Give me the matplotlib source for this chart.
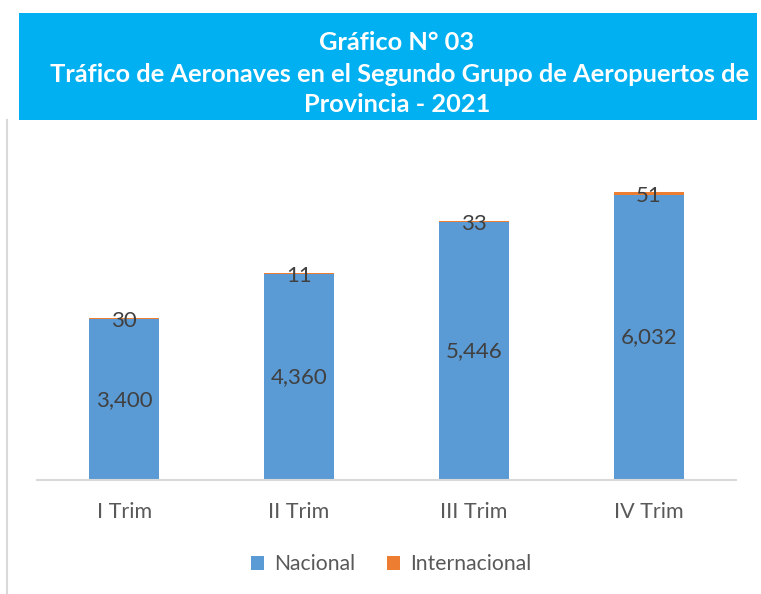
import matplotlib
matplotlib.use("Agg")
import matplotlib.pyplot as plt
from matplotlib.patches import Rectangle, Patch
from matplotlib.lines import Line2D

categories = ["I Trim", "II Trim", "III Trim", "IV Trim"]
nacional = [3400, 4360, 5446, 6032]
internacional = [30, 11, 33, 51]
series_names = ["Nacional", "Internacional"]
title_lines = ["Gráfico N° 03",
               " Tráfico de Aeronaves en el Segundo Grupo de Aeropuertos de",
               "Provincia - 2021"]

W, H = 761, 594
plt.rcParams['font.family'] = ['Lato', 'DejaVu Sans']
fig = plt.figure(figsize=(W / 100, H / 100), dpi=100)

# title box
fig.patches.append(Rectangle((19 / W, 1 - 120 / H), (757 - 19) / W, (120 - 13) / H,
                             transform=fig.transFigure, facecolor="#00B0F0",
                             edgecolor="none", zorder=0))
for txt, yp in zip(title_lines, [42, 74, 104]):
    fig.text(397 / W, 1 - yp / H, txt, ha="center", va="center", color="white",
             fontsize=18.3, fontweight="bold")

# left border line
fig.add_artist(Line2D([7 / W, 7 / W], [0, 1 - 120 / H], transform=fig.transFigure,
                      color="#D9D9D9", lw=1.5))

ax = fig.add_axes([37 / W, 1 - 480 / H, (736 - 37) / W, (480 - 149) / H])
x = range(len(categories))
blue = "#5B9BD5"
orange = "#ED7D31"
ax.bar(x, nacional, width=0.4, color=blue, label=series_names[0], zorder=2)
ax.bar(x, internacional, width=0.4, bottom=nacional, color=orange,
       label=series_names[1], zorder=2)
for i in x:
    ax.text(i, nacional[i] / 2, f"{nacional[i]:,}", ha="center", va="center",
            fontsize=16, color="#404040", zorder=3)
    ax.text(i, nacional[i] + internacional[i] / 2 - 50, f"{internacional[i]:,}",
            ha="center", va="center", fontsize=16, color="#404040", zorder=3)

ax.set_xlim(-0.5, 3.5)
ax.set_ylim(0, 7000)
ax.set_xticks(list(x))
ax.set_xticklabels(categories, fontsize=15.5, color="#595959")
ax.tick_params(axis="x", length=0, pad=16)
ax.set_yticks([])
for s in ["top", "right", "left"]:
    ax.spines[s].set_visible(False)
ax.spines["bottom"].set_color("#D9D9D9")
ax.spines["bottom"].set_linewidth(1.5)

handles = [Patch(facecolor=blue), Patch(facecolor=orange)]
fig.legend(handles, series_names, loc="center", bbox_to_anchor=(391 / W, 1 - 564 / H),
           ncol=2, frameon=False, fontsize=15.2, labelcolor="#595959",
           handlelength=0.65, handleheight=0.65, handletextpad=0.45, columnspacing=1.5)

fig.savefig("out.png", dpi=100)
